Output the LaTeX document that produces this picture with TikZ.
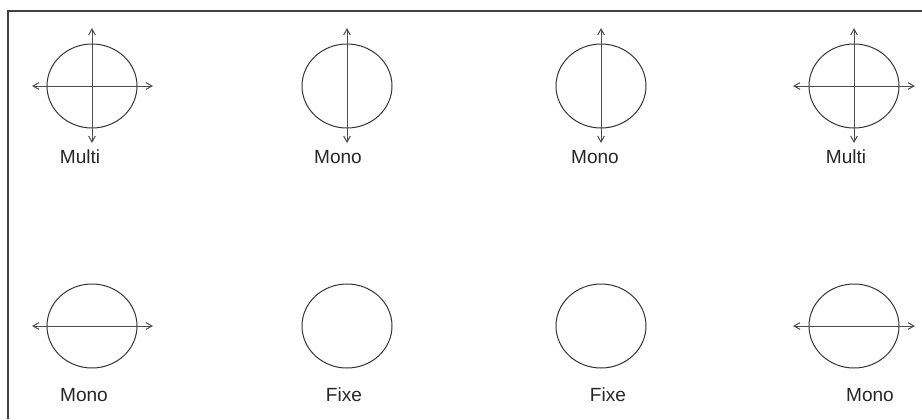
\documentclass[tikz,border=0pt]{standalone}
\usepackage{fontspec}
\setmainfont{Liberation Sans}
\usetikzlibrary{shapes.geometric,arrows.meta}
\begin{document}
\begin{tikzpicture}[x=0.75pt,y=-0.75pt,
  disc/.style={draw=black!80,line width=0.75pt,ellipse,minimum width=67.5pt,minimum height=63pt,inner sep=0pt},
  axis/.style={draw=black!70,line width=0.75pt,{Straight Barb[length=4.5pt,width=5pt]}-{Straight Barb[length=4.5pt,width=5pt]}},
  lab/.style={font=\fontsize{14.3}{16}\selectfont,text=black!85,inner sep=0pt},
  frame/.style={draw=black!75,line width=1.1pt}]
\useasboundingbox (0,0) rectangle (922,419);
\draw[frame] (922,11) -- (8,11) -- (8,419);
% top row
\node[disc] (c1) at (92,86) {};
\node[disc] (c2) at (347,86) {};
\node[disc] (c3) at (601,86) {};
\node[disc] (c4) at (854,86) {};
% bottom row
\node[disc] (c5) at (92,326) {};
\node[disc] (c6) at (347,326) {};
\node[disc] (c7) at (601,326) {};
\node[disc] (c8) at (854,326) {};
% arrow ends
\coordinate (c1t) at (92,28); \coordinate (c1b) at (92,143);
\coordinate (c1l) at (32,86); \coordinate (c1r) at (153,86);
\coordinate (c2t) at (347,28); \coordinate (c2b) at (347,143);
\coordinate (c3t) at (601,28); \coordinate (c3b) at (601,143);
\coordinate (c4t) at (854,28); \coordinate (c4b) at (854,143);
\coordinate (c4l) at (793,86); \coordinate (c4r) at (915,86);
\coordinate (c5l) at (32,326); \coordinate (c5r) at (153,326);
\coordinate (c8l) at (793,326); \coordinate (c8r) at (915,326);
\draw[axis] (c1t) -- (c1b);
\draw[axis] (c1l) -- (c1r);
\draw[axis] (c2t) -- (c2b);
\draw[axis] (c3t) -- (c3b);
\draw[axis] (c4t) -- (c4b);
\draw[axis] (c4l) -- (c4r);
\draw[axis] (c5l) -- (c5r);
\draw[axis] (c8l) -- (c8r);
% labels
\node[lab] (l1) at (80,157) {Multi};
\node[lab] (l2) at (338,157) {Mono};
\node[lab] (l3) at (595,157) {Mono};
\node[lab] (l4) at (846,157) {Multi};
\node[lab] (l5) at (84,395) {Mono};
\node[lab] (l6) at (344,395) {Fixe};
\node[lab] (l7) at (608,395) {Fixe};
\node[lab] (l8) at (870,395) {Mono};
\end{tikzpicture}
\end{document}
